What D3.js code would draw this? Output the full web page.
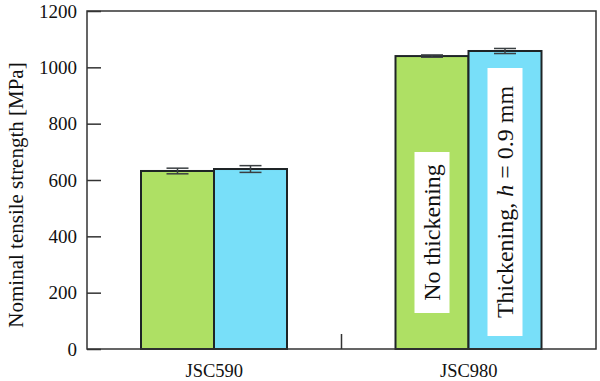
<!DOCTYPE html>
<html><head><meta charset="utf-8">
<script src="https://cdn.jsdelivr.net/npm/d3@7"></script>
<style>body{margin:0;background:#fff}svg{display:block}
text{font-family:"Liberation Serif","Times New Roman",Times,serif !important;}</style>
</head><body>
<svg id="c" width="600" height="381"></svg>
<script>
const categories = ["JSC590", "JSC980"];
const seriesNames = ["No thickening", "Thickening, h = 0.9 mm"];
const noThickening = [632, 1040];
const noThickeningErr = [10, 4];
const thickening = [639, 1058];
const thickeningErr = [12, 9];
const yTicks = [0, 200, 400, 600, 800, 1000, 1200];
const colors = ["#aee064", "#78dff9"];

const svg = d3.select("#c");
const L = 87, R = 596, T = 11, B = 349;

const x = d3.scaleBand().domain(categories).range([L, R]).padding(0);
const xs = d3.scaleBand().domain([0, 1]).range([54, 200]).padding(0);
const y = d3.scaleLinear().domain([0, 1200]).range([B, T]);

const data = [];
categories.forEach((c, i) => {
  data.push({c, s: 0, v: noThickening[i], e: noThickeningErr[i]});
  data.push({c, s: 1, v: thickening[i], e: thickeningErr[i]});
});

// bars
svg.append("g").selectAll("rect").data(data).join("rect")
  .attr("x", d => x(d.c) + xs(d.s))
  .attr("y", d => y(d.v))
  .attr("width", xs.bandwidth())
  .attr("height", d => y(0) - y(d.v))
  .attr("fill", d => colors[d.s])
  .attr("stroke", "#1e2426").attr("stroke-width", 2);

// error bars
const eg = svg.append("g").attr("stroke", "#3a3f42").attr("stroke-width", 1.5);
data.forEach(d => {
  const cx = x(d.c) + xs(d.s) + xs.bandwidth() / 2;
  eg.append("line").attr("x1", cx).attr("x2", cx).attr("y1", y(d.v + d.e)).attr("y2", y(d.v - d.e));
  eg.append("line").attr("x1", cx - 11).attr("x2", cx + 11).attr("y1", y(d.v + d.e)).attr("y2", y(d.v + d.e));
  eg.append("line").attr("x1", cx - 11).attr("x2", cx + 11).attr("y1", y(d.v - d.e)).attr("y2", y(d.v - d.e));
});

// label boxes inside JSC980 bars
const boxes = [
  {s: 0, top: 152, bot: 313, text: [{t: "No thickening"}]},
  {s: 1, top: 68, bot: 336, text: [{t: "Thickening, "}, {t: "h", i: true}, {t: " = 0.9 mm"}]}
];
boxes.forEach(b => {
  const bx = x("JSC980") + xs(b.s) + xs.bandwidth() / 2;
  svg.append("rect").attr("x", bx - 17.5).attr("y", b.top).attr("width", 35).attr("height", b.bot - b.top).attr("fill", "#fff");
  const t = svg.append("text")
    .attr("transform", `translate(${bx + 8},${(b.top + b.bot) / 2}) rotate(-90)`)
    .attr("text-anchor", "middle")
    .attr("font-size", 24).attr("fill", "#111");
  b.text.forEach(p => t.append("tspan").text(p.t).attr("font-style", p.i ? "italic" : null));
});

// frame
svg.append("rect").attr("x", L).attr("y", T).attr("width", R - L).attr("height", B - T)
  .attr("fill", "none").attr("stroke", "#333").attr("stroke-width", 1.5);

// y axis
const yAxis = d3.axisLeft(y).tickValues(yTicks).tickFormat(d3.format("d")).tickSizeInner(-14).tickSizeOuter(0).tickPadding(10);
const ya = svg.append("g").attr("transform", `translate(${L},0)`).call(yAxis);
ya.select(".domain").remove();
ya.selectAll(".tick line").attr("stroke", "#333").attr("stroke-width", 1.5);
ya.selectAll(".tick text").attr("font-size", 19).attr("fill", "#111");

// x axis labels
const xAxis = d3.axisBottom(x).tickSize(0).tickPadding(15);
const xa = svg.append("g").attr("transform", `translate(0,${B})`).call(xAxis);
xa.select(".domain").remove();
xa.selectAll(".tick text").attr("font-size", 18.5).attr("fill", "#111");

// middle divider tick
svg.append("line").attr("x1", x("JSC980")).attr("x2", x("JSC980")).attr("y1", B).attr("y2", B - 15)
  .attr("stroke", "#333").attr("stroke-width", 1.5);

// y label
svg.append("text").attr("transform", `translate(23,195) rotate(-90)`)
  .attr("text-anchor", "middle").attr("font-size", 21).attr("fill", "#111")
  .text("Nominal tensile strength [MPa]");
</script>
</body></html>
